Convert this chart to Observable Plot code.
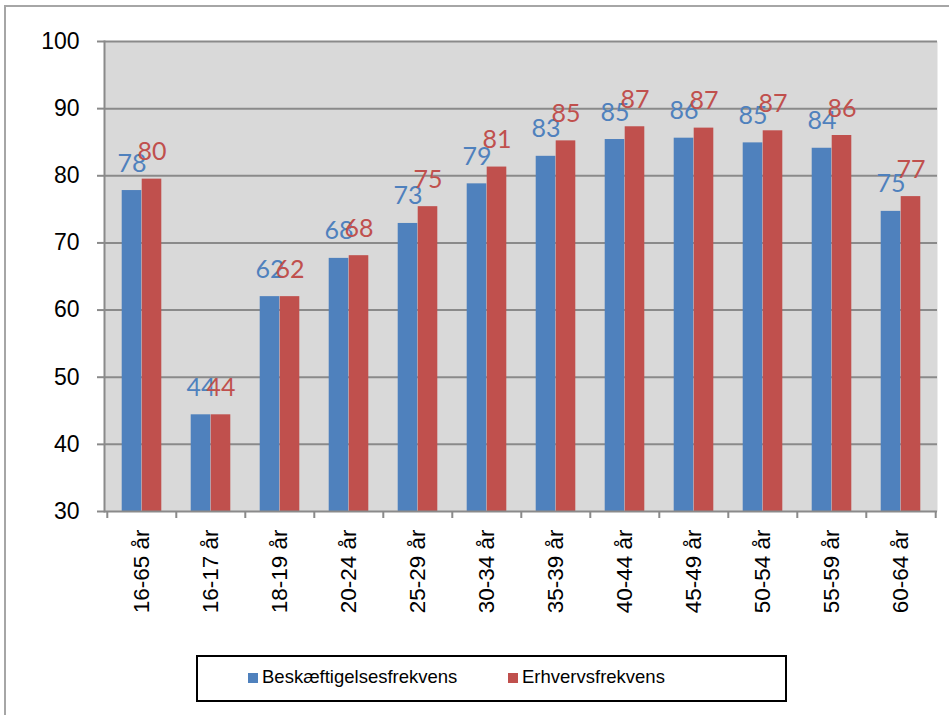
<!DOCTYPE html>
<html>
<head>
<meta charset="utf-8">
<script src="https://cdn.jsdelivr.net/npm/d3@7"></script>
<script src="https://cdn.jsdelivr.net/npm/@observablehq/plot@0.6"></script>
<style>
  html, body { margin: 0; padding: 0; background: #fff; }
  #wrap { position: relative; width: 949px; height: 715px; overflow: hidden; background: #fff; }
  #outer { position: absolute; left: 4px; top: 5px; width: 1000px; height: 1000px; border: 2px solid #a6a6a6; box-sizing: border-box; }
  #chart { position: absolute; left: 0; top: 0; }
  #legend { position: absolute; left: 196px; top: 655px; width: 591px; height: 47px; border: 2px solid #000; box-sizing: border-box; background: #fff;
            font-family: "Liberation Sans", Arial, sans-serif; font-size: 18.5px; color: #000; }
  .sw { position: absolute; width: 10px; height: 10px; top: 16px; }
  .lt { position: absolute; top: 9px; white-space: nowrap; }
</style>
</head>
<body>
<div id="wrap">
  <div id="outer"></div>
  <div id="chart"></div>
  <div id="legend"></div>
</div>
<script>
const categories = ["16-65 år","16-17 år","18-19 år","20-24 år","25-29 år","30-34 år","35-39 år","40-44 år","45-49 år","50-54 år","55-59 år","60-64 år"];
const beskaeftigelse = [77.8, 44.4, 62.0, 67.7, 72.9, 78.8, 82.9, 85.4, 85.6, 84.9, 84.1, 74.7];
const erhverv        = [79.5, 44.4, 62.0, 68.1, 75.4, 81.3, 85.2, 87.3, 87.1, 86.7, 86.0, 76.9];
const seriesNames = ["Beskæftigelsesfrekvens", "Erhvervsfrekvens"];
const seriesColors = ["#4f81bd", "#c0504d"];
const yTicks = [30, 40, 50, 60, 70, 80, 90, 100];

const W = 949, H = 640;
const mL = 104, mR = 12, mT = 41, mB = 129;
const bw = (W - mL - mR) / categories.length;
const barW = 20;
const yMin = 30;
const gridColor = "#8a8a8a";

const data = categories.map((c, i) => ({cat: c, blue: beskaeftigelse[i], red: erhverv[i]}));

const chart = Plot.plot({
  width: W, height: H,
  marginLeft: mL, marginRight: mR, marginTop: mT, marginBottom: mB,
  style: {fontFamily: "'Liberation Sans', Arial, sans-serif", fontSize: "20px", background: "transparent", overflow: "visible"},
  x: {type: "band", domain: categories, padding: 0, label: null},
  y: {domain: [30, 100], label: null},
  marks: [
    Plot.frame({fill: "#d9d9d9", stroke: null}),
    Plot.ruleY(yTicks.filter(t => t > yMin), {stroke: gridColor, strokeWidth: 2}),
    Plot.barY(data, {x: "cat", y1: d => yMin, y2: "blue", fill: seriesColors[0], insetLeft: bw/2 - barW, insetRight: bw/2}),
    Plot.barY(data, {x: "cat", y1: d => yMin, y2: "red", fill: seriesColors[1], insetLeft: bw/2, insetRight: bw/2 - barW}),
    Plot.frame({anchor: "left", stroke: gridColor, strokeWidth: 2}),
    Plot.ruleY([yMin], {stroke: gridColor, strokeWidth: 2}),
    Plot.ruleX(categories, {x: d => d, dx: -bw/2, stroke: gridColor, strokeWidth: 2, insetTop: H - mT - mB, insetBottom: -7}),
    Plot.ruleX(categories.slice(-1), {x: d => d, dx: bw/2, stroke: gridColor, strokeWidth: 2, insetTop: H - mT - mB, insetBottom: -7}),
    Plot.axisY({ticks: yTicks, tickSize: 7, tickPadding: 18, stroke: gridColor, strokeWidth: 2, fill: "#000", fontSize: 23, label: null}),
    Plot.axisX({tickSize: 0, tickPadding: 18, tickRotate: -90, fill: "#000", fontSize: 22.5, label: null}),
    Plot.text(data, {x: "cat", y: "blue", text: d => String(Math.round(d.blue)), dx: -barW/2, dy: -27, fill: seriesColors[0], fontSize: 25, fontFamily: "Lato, 'Open Sans', sans-serif"}),
    Plot.text(data, {x: "cat", y: "red", text: d => String(Math.round(d.red)), dx: barW/2, dy: -27, fill: seriesColors[1], fontSize: 25, fontFamily: "Lato, 'Open Sans', sans-serif"})
  ]
});
document.getElementById("chart").appendChild(chart);

const legend = document.getElementById("legend");
const legendPos = [{sw: 50, tx: 64}, {sw: 310, tx: 324}];
seriesNames.forEach((name, i) => {
  const s = document.createElement("div");
  s.className = "sw";
  s.style.left = legendPos[i].sw + "px";
  s.style.background = seriesColors[i];
  legend.appendChild(s);
  const t = document.createElement("div");
  t.className = "lt";
  t.style.left = legendPos[i].tx + "px";
  t.textContent = name;
  legend.appendChild(t);
});
</script>
</body>
</html>
